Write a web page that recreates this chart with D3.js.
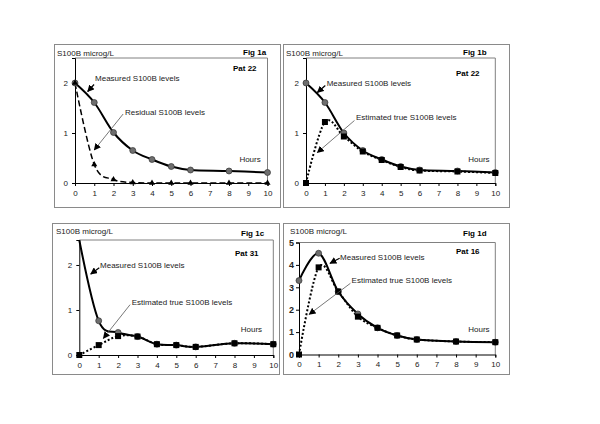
<!DOCTYPE html>
<html><head><meta charset="utf-8">
<script src="https://cdn.jsdelivr.net/npm/d3@7"></script>
<style>
body{margin:0;background:#fff}
svg{display:block}
text{font-family:"Liberation Sans",Arial,sans-serif}
</style>
</head><body><svg id="c" width="600" height="424"></svg>
<script>
// ---------- data ----------
const hours = [0, 1, 2, 3, 4, 5, 6, 8, 10];
const xTickValues = [0, 1, 2, 3, 4, 5, 6, 7, 8, 9, 10];
const measured1a  = [2.0, 1.61, 1.01, 0.65, 0.47, 0.33, 0.26, 0.24, 0.21];
const residual1a  = [2.0, 0.37, 0.07, 0.01, 0.0, 0.0, 0.0, 0.0, 0.0];
const measured1b  = [2.0, 1.61, 1.0, 0.65, 0.47, 0.33, 0.26, 0.24, 0.21];
const estimated1b = [0.0, 1.22, 0.93, 0.63, 0.46, 0.32, 0.25, 0.23, 0.2];
const measured1c  = [2.55, 0.76, 0.5, 0.41, 0.24, 0.22, 0.18, 0.26, 0.24];
const estimated1c = [0.0, 0.22, 0.42, 0.41, 0.24, 0.22, 0.18, 0.26, 0.24];
const measured1d  = [3.3, 4.52, 2.81, 1.81, 1.19, 0.85, 0.67, 0.58, 0.55];
const estimated1d = [0.0, 3.89, 2.81, 1.69, 1.19, 0.85, 0.67, 0.58, 0.55];
const yTicksSmall = [0, 1, 2];
const yTicks1d = [0, 1, 2, 3, 4, 5];
const yTitle = "S100B microg/L";
const figLabels = ["Fig 1a", "Fig 1b", "Fig 1c", "Fig 1d"];
const patLabels = ["Pat 22", "Pat 22", "Pat 31", "Pat 16"];
const measuredLabel = "Measured S100B levels";
const residualLabel = "Residual S100B levels";
const estimatedLabel = "Estimated true S100B levels";
const hoursLabel = "Hours";

// ---------- layout ----------
const panels = [
  {frame:[54,44,226,163], plot:{l:75,r:267.5,t:58,b:183}, yMax:2.5, yTicks:yTicksSmall, boldY:false,
   title:[57,56], fig:[243,54.5], pat:[233,71],
   series:[
     {vals:measured1a, style:"solid", marker:"circle"},
     {vals:residual1a, style:"dashed", marker:"triangle"}
   ],
   notes:[
     {text:measuredLabel, at:[1.04,2.04], from:[0.99,1.97], to:[0.66,1.83], gray:false},
     {text:residualLabel, at:[2.6,1.37], from:[2.5,1.38], to:[1.0,0.66], gray:true}
   ], hours:[8.54,0.42]},
  {frame:[283,44,226,163], plot:{l:306,r:495.3,t:58,b:183}, yMax:2.5, yTicks:yTicksSmall, boldY:false,
   title:[286,56], fig:[463,54.5], pat:[456,76],
   series:[
     {vals:measured1b, style:"solid", marker:"circle"},
     {vals:estimated1b, style:"dotted", marker:"square"}
   ],
   notes:[
     {text:measuredLabel, at:[1.09,1.95], from:[1.02,1.95], to:[0.6,1.81], gray:false},
     {text:estimatedLabel, at:[2.64,1.26], from:[2.56,1.25], to:[0.6,0.61], gray:true}
   ], hours:[8.57,0.42]},
  {frame:[52,223,227,151], plot:{l:79.3,r:273.3,t:240,b:355}, yMax:2.555, yTicks:yTicksSmall, boldY:false,
   title:[56,234], fig:[241,235.5], pat:[235,256],
   series:[
     {vals:measured1c, style:"solid", marker:"circle"},
     {vals:estimated1c, style:"dotted", marker:"square"}
   ],
   notes:[
     {text:measuredLabel, at:[1.07,1.93], from:[1.03,1.94], to:[0.59,1.8], gray:false},
     {text:estimatedLabel, at:[2.7,1.12], from:[2.62,1.12], to:[1.24,0.37], gray:true}
   ], hours:[8.32,0.51]},
  {frame:[283,223,226,151], plot:{l:299,r:495.3,t:242.5,b:354.5}, yMax:5, yTicks:yTicks1d, boldY:true,
   title:[290,234], fig:[463,235.5], pat:[456,253.5],
   series:[
     {vals:measured1d, style:"solid", marker:"circle"},
     {vals:estimated1d, style:"dotted", marker:"square"}
   ],
   notes:[
     {text:measuredLabel, at:[2.09,4.24], from:[2.07,4.3], to:[1.58,4.07], gray:false},
     {text:estimatedLabel, at:[2.68,3.19], from:[2.62,3.18], to:[0.52,1.79], gray:true}
   ], hours:[8.62,1.0]}
];

const svg = d3.select("#c");
const defs = svg.append("defs");
defs.append("marker").attr("id","arr").attr("viewBox","0 0 10 10")
  .attr("refX",9).attr("refY",5).attr("markerWidth",7).attr("markerHeight",7)
  .attr("markerUnits","userSpaceOnUse").attr("orient","auto")
  .append("path").attr("d","M0,0 L10,5 L0,10 Z").attr("fill","#000");

const curve = d3.curveCardinal.tension(0);
const FS = 8;

panels.forEach((p, i) => {
  const g = svg.append("g");
  const [fx, fy, fw, fh] = p.frame;
  g.append("rect").attr("x", fx + 0.5).attr("y", fy + 0.5).attr("width", fw).attr("height", fh)
    .attr("fill", "#fff").attr("stroke", "#8a8a8a").attr("stroke-width", 1);

  const x = d3.scaleLinear().domain([0, 10]).range([p.plot.l, p.plot.r]);
  const y = d3.scaleLinear().domain([0, p.yMax]).range([p.plot.b, p.plot.t]);

  // plot area box (top & right grey)
  g.append("path")
    .attr("d", `M${x(0)},${y(p.yMax)}H${x(10)}V${y(0)}`)
    .attr("fill", "none").attr("stroke", "#808080").attr("stroke-width", 1);

  // axes
  const xa = g.append("g").attr("transform", `translate(0,${y(0)})`)
    .call(d3.axisBottom(x).tickValues(xTickValues).tickSize(3).tickPadding(4).tickFormat(d3.format("d")));
  const ya = g.append("g").attr("transform", `translate(${x(0)},0)`)
    .call(d3.axisLeft(y).tickValues(p.yTicks).tickSize(3).tickPadding(p.boldY ? 2 : 4).tickFormat(d3.format("d")));
  [xa, ya].forEach(a => {
    a.select(".domain").attr("stroke", "#000").attr("stroke-width", 1);
    a.selectAll(".tick line").attr("stroke", "#000");
    a.selectAll(".tick text").attr("font-size", FS).attr("fill", "#222")
      .attr("font-family", '"Liberation Sans",Arial,sans-serif');
  });
  if (p.boldY) ya.selectAll(".tick text").attr("font-weight", "bold").attr("font-size", 9);

  // clip
  const cid = "clip" + i;
  defs.append("clipPath").attr("id", cid).append("rect")
    .attr("x", x(0) - 5).attr("y", y(p.yMax)).attr("width", x(10) - x(0) + 10).attr("height", y(0) - y(p.yMax) + 5);
  const pg = g.append("g").attr("clip-path", `url(#${cid})`);

  const line = d3.line().x((d, k) => x(hours[k])).y(d => y(d)).curve(curve);

  // lines
  p.series.forEach(s => {
    const path = pg.append("path").datum(s.vals).attr("d", line)
      .attr("fill", "none").attr("stroke", "#000");
    if (s.style === "solid") path.attr("stroke-width", 2);
    if (s.style === "dashed") path.attr("stroke-width", 1.5).attr("stroke-dasharray", "6,3");
    if (s.style === "dotted") path.attr("stroke-width", 2).attr("stroke-dasharray", "2,2");
  });
  // markers
  p.series.forEach(s => {
    const pts = s.vals.map((v, k) => [hours[k], v]).filter(d => d[1] <= p.yMax - 0.01);
    if (s.marker === "circle") {
      pg.selectAll(null).data(pts).enter().append("circle")
        .attr("cx", d => x(d[0])).attr("cy", d => y(d[1])).attr("r", 3)
        .attr("fill", "#6e6e6e").attr("stroke", "#333").attr("stroke-width", 0.7);
    } else if (s.marker === "square") {
      pg.selectAll(null).data(pts).enter().append("rect")
        .attr("x", d => x(d[0]) - 3).attr("y", d => y(d[1]) - 3).attr("width", 6).attr("height", 6)
        .attr("fill", "#000");
    } else {
      const tri = d3.symbol().type(d3.symbolTriangle).size(16);
      pg.selectAll(null).data(pts).enter().append("path")
        .attr("transform", d => `translate(${x(d[0])},${y(d[1])})`).attr("d", tri).attr("fill", "#000");
    }
  });

  // annotations
  p.notes.forEach(n => {
    g.append("line").attr("x1", x(n.from[0])).attr("y1", y(n.from[1]))
      .attr("x2", x(n.to[0])).attr("y2", y(n.to[1]))
      .attr("stroke", n.gray ? "#555" : "#000").attr("stroke-width", n.gray ? 0.8 : 1.2)
      .attr("marker-end", "url(#arr)");
    g.append("text").attr("x", x(n.at[0])).attr("y", y(n.at[1])).text(n.text)
      .attr("font-size", FS).attr("fill", "#222");
  });
  g.append("text").attr("x", x(p.hours[0])).attr("y", y(p.hours[1])).text(hoursLabel)
    .attr("font-size", FS).attr("fill", "#222");

  // titles
  g.append("text").attr("x", p.title[0]).attr("y", p.title[1]).text(yTitle)
    .attr("font-size", FS).attr("fill", "#222");
  g.append("text").attr("x", p.fig[0]).attr("y", p.fig[1]).text(figLabels[i])
    .attr("font-size", FS).attr("font-weight", "bold").attr("fill", "#000");
  g.append("text").attr("x", p.pat[0]).attr("y", p.pat[1]).text(patLabels[i])
    .attr("font-size", FS).attr("font-weight", "bold").attr("fill", "#000");
});
</script>
</body></html>
